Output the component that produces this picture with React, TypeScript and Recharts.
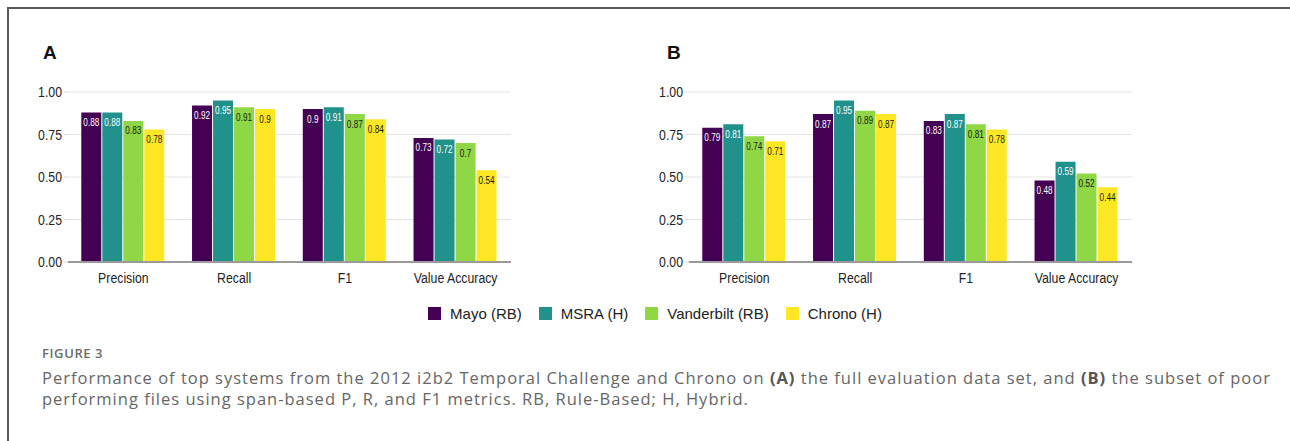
import React from "react";
import { BarChart, Bar, XAxis, YAxis, CartesianGrid, LabelList } from "recharts";

const categories = ["Precision", "Recall", "F1", "Value Accuracy"];
const seriesNames = ["Mayo (RB)", "MSRA (H)", "Vanderbilt (RB)", "Chrono (H)"];
const seriesColors = ["#440154", "#21918c", "#8fd744", "#fde725"];
const labelColors = ["#ffffff", "#ffffff", "#1a1a1a", "#1a1a1a"];
const yTicks = [0, 0.25, 0.5, 0.75, 1];

// panel A: full evaluation set
const mayoA = [0.88, 0.92, 0.9, 0.73];
const msraA = [0.88, 0.95, 0.91, 0.72];
const vandA = [0.83, 0.91, 0.87, 0.7];
const chronoA = [0.78, 0.9, 0.84, 0.54];

// panel B: poor performing subset
const mayoB = [0.79, 0.87, 0.83, 0.48];
const msraB = [0.81, 0.95, 0.87, 0.59];
const vandB = [0.74, 0.89, 0.81, 0.52];
const chronoB = [0.71, 0.87, 0.78, 0.44];

const SANS = "'Liberation Sans', Arial, sans-serif";
const SQUEEZE = 0.82; // the original uses a condensed face

function buildRows(series: number[][]) {
  return categories.map((c, i) => {
    const row: any = { name: c };
    seriesNames.forEach((s, k) => { row[s] = series[k][i]; });
    return row;
  });
}

function Narrow({ x, y, text, size, fill, anchor, dy }: any) {
  return (
    <g transform={`translate(${x},${y}) scale(${SQUEEZE},1)`}>
      <text x={0} y={0} dy={dy} textAnchor={anchor} fill={fill} fontSize={size} fontFamily={SANS}>{text}</text>
    </g>
  );
}

const xTick = (p: any) => <Narrow x={p.x} y={p.y} dy="0.71em" anchor="middle" size={15} fill="#222" text={p.payload.value} />;
const yTick = (p: any) => <Narrow x={p.x} y={p.y} dy="0.355em" anchor="end" size={15} fill="#222" text={Number(p.payload.value).toFixed(2)} />;

function makeLabel(color: string) {
  return (p: any) => (
    <Narrow x={p.x + p.width / 2} y={p.y + 13.5} anchor="middle" size={10} fill={color} text={p.value} />
  );
}

function Panel({ data, left }: { data: any[]; left: number }) {
  return (
    <div style={{ position: "absolute", left, top: 0 }}>
      <BarChart width={530} height={300} data={data}
        margin={{ top: 92, right: 19, bottom: 8, left: 0 }}
        barCategoryGap="12%" barGap={1}>
        <CartesianGrid vertical={false} stroke="#e4e4e4" />
        <XAxis dataKey="name" tickLine={false} tickSize={0} tickMargin={10} height={30}
          axisLine={{ stroke: "#9a9a9a", strokeWidth: 2 }} tick={xTick} />
        <YAxis domain={[0, 1]} ticks={yTicks} width={68} axisLine={false}
          tickLine={{ stroke: "#d8d8d8" }} tickSize={4} tickMargin={2} tick={yTick} />
        {seriesNames.map((s, k) => (
          <Bar key={s} dataKey={s} fill={seriesColors[k]} isAnimationActive={false}>
            <LabelList dataKey={s} content={makeLabel(labelColors[k])} />
          </Bar>
        ))}
      </BarChart>
    </div>
  );
}

export default function App() {
  const dataA = buildRows([mayoA, msraA, vandA, chronoA]);
  const dataB = buildRows([mayoB, msraB, vandB, chronoB]);
  const capStyle = { fontFamily: "'Open Sans', sans-serif", color: "#666" };
  return (
    <div style={{ position: "absolute", left: 0, top: 0, width: 1290, height: 441, background: "#fff", overflow: "hidden" }}>
      <div style={{ position: "absolute", left: 7, top: 7, width: 1300, height: 450, borderLeft: "2px solid #5a5a5a", borderTop: "2px solid #5a5a5a" }} />
      <div style={{ position: "absolute", left: 43, top: 42, fontFamily: SANS, fontWeight: 700, fontSize: 19, color: "#111" }}>A</div>
      <div style={{ position: "absolute", left: 667, top: 42, fontFamily: SANS, fontWeight: 700, fontSize: 19, color: "#111" }}>B</div>
      <Panel data={dataA} left={0} />
      <Panel data={dataB} left={621} />
      <div style={{ position: "absolute", left: 0, width: 1290, top: 305, display: "flex", justifyContent: "center", paddingLeft: 20, boxSizing: "border-box" }}>
        {seriesNames.map((s, k) => (
          <div key={s} style={{ display: "flex", alignItems: "center", marginRight: k < 3 ? 17 : 0 }}>
            <span style={{ width: 13, height: 13, background: seriesColors[k], display: "inline-block", marginRight: 9 }} />
            <span style={{ fontFamily: SANS, fontSize: 15, color: "#222" }}>{s}</span>
          </div>
        ))}
      </div>
      <div style={{ ...capStyle, position: "absolute", left: 42, top: 344, fontWeight: 600, fontSize: 13, letterSpacing: 0.6, color: "#6a6a6a" }}>FIGURE 3</div>
      <div style={{ ...capStyle, position: "absolute", left: 42, top: 367, fontSize: 16.5, lineHeight: "21px", letterSpacing: 1.0, whiteSpace: "nowrap" }}>
        <div>Performance of top systems from the 2012 i2b2 Temporal Challenge and Chrono on <b style={{ color: "#555" }}>(A)</b> the full evaluation data set, and <b style={{ color: "#555" }}>(B)</b> the subset of poor</div>
        <div>performing files using span-based P, R, and F1 metrics. RB, Rule-Based; H, Hybrid.</div>
      </div>
    </div>
  );
}
